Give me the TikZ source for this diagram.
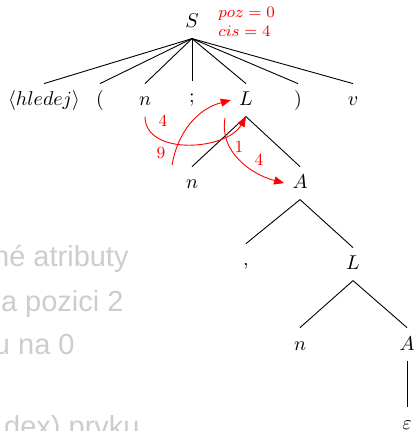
\documentclass[tikz,border=0pt]{standalone}
\usepackage{fontspec}
\usepackage{tikz}
\usetikzlibrary{arrows.meta}
\newfontfamily\slidefont{Liberation Sans}
\definecolor{ptr}{RGB}{255,0,0}
\definecolor{slidegray}{RGB}{205,205,205}
\tikzset{
  sym/.style={anchor=base, inner sep=4pt, text height=7pt, text depth=1.1pt, font=\normalsize},
  edge/.style={draw=black, line width=0.45pt},
  link/.style={-{Triangle[length=5pt,width=4pt]}, draw=ptr, line width=0.45pt},
  weight/.style={text=ptr, font=\fontsize{8.5}{10}\selectfont, inner sep=1pt},
  note/.style={anchor=base west, text=ptr, font=\fontsize{8.5}{10}\selectfont, inner sep=0pt},
  bgtext/.style={anchor=base east, text=slidegray, font=\slidefont\fontsize{14.5}{17}\selectfont, inner sep=0pt},
}

\begin{document}
\begin{tikzpicture}[x=0.5pt, y=0.5pt]
  \useasboundingbox (0,0) rectangle (413,-431);

  % slide text behind the tree
  \node[bgtext] (t1) at (129,-267) {né atributy};
  \node[bgtext] (t2) at (124,-311) {a pozici 2};
  \node[bgtext] (t3) at (75,-354) {u na 0};
  \node[bgtext] (t4) at (140,-436) {dex) prvku};

  \node[sym] (S) at (192,-28) {$S$};
  \node[note] (poz) at (218,-18) {$poz=0$};
  \node[note] (cis) at (218,-37) {$cis=4$};

  \node[sym] (hl) at (44,-106) {$\langle hledej\rangle$};
  \node[sym] (lp) at (100,-106) {$($};
  \node[sym] (n1) at (145,-106) {$n$};
  \node[sym] (sc) at (192,-103) {$;$};
  \node[sym] (L1) at (246,-106) {$L$};
  \node[sym] (rp) at (298,-106) {$)$};
  \node[sym] (v) at (353,-106) {$v$};
  \node[sym] (n2) at (192,-189) {$n$};
  \node[sym] (A1) at (300,-189) {$A$};
  \node[sym] (cm) at (246,-266) {$,$};
  \node[sym] (L2) at (353,-270) {$L$};
  \node[sym] (n3) at (300,-350) {$n$};
  \node[sym] (A2) at (407,-350) {$A$};
  \node[sym] (eps) at (407,-429) {$\varepsilon$};

  \draw[edge] (S.south) -- (hl.north);
  \draw[edge] (S.south) -- (lp.north);
  \draw[edge] (S.south) -- (n1.north);
  \draw[edge] (S.south) -- (sc.north);
  \draw[edge] (S.south) -- (L1.north);
  \draw[edge] (S.south) -- (rp.north);
  \draw[edge] (S.south) -- (v.north);
  \draw[edge] (L1.south) -- (n2.north);
  \draw[edge] (L1.south) -- (A1.north);
  \draw[edge] (A1.south) -- (cm.north);
  \draw[edge] (A1.south) -- (L2.north);
  \draw[edge] (L2.south) -- (n3.north);
  \draw[edge] (L2.south) -- (A2.north);
  \draw[edge] (A2.south) -- (eps.north);

  % pointers
  \coordinate (p9) at (172,-165);
  \coordinate (p1) at (225,-118);
  \draw[link] (n1.south) to[out=-90, in=-120] (L1.south);
  \draw[link] (p9) to[out=80, in=195] (L1.west);
  \draw[link] (p1) to[out=-100, in=165] (A1.west);
  \node[weight] (w4a) at (163,-121) {4};
  \node[weight] (w9) at (161,-153) {9};
  \node[weight] (w1) at (239,-147) {1};
  \node[weight] (w4b) at (259,-160) {4};
\end{tikzpicture}
\end{document}
